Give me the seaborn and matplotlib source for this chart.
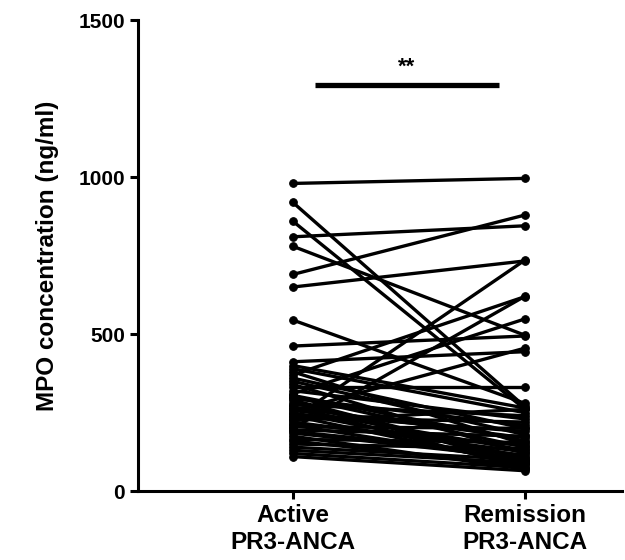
import matplotlib
matplotlib.use("Agg")
import matplotlib.pyplot as plt
import seaborn as sns
import pandas as pd

groups = ["Active\nPR3-ANCA", "Remission\nPR3-ANCA"]
active = [980, 920, 860, 810, 780, 690, 650, 545, 462, 412, 400, 390, 380, 370, 360, 350,
          340, 332, 320, 310, 305, 300, 295, 290, 282, 275, 270, 265, 260, 255, 250, 245,
          240, 235, 230, 225, 220, 215, 210, 205, 200, 195, 190, 185, 175, 165, 160, 150,
          140, 130, 120, 110]
remission = [996, 270, 262, 845, 497, 879, 733, 280, 494, 444, 265, 250, 150, 619, 200, 180,
             120, 332, 230, 548, 160, 140, 210, 100, 90, 240, 75, 170, 130, 455, 110, 190,
             85, 220, 735, 260, 125, 145, 95, 200, 620, 175, 115, 105, 70, 155, 80, 135,
             100, 90, 75, 65]
yticks = [0, 500, 1000, 1500]
sig_label = "**"
sig_level = 1293

rows = []
for i, (a, r) in enumerate(zip(active, remission)):
    rows.append({"subject": i, "pos": 0, "value": a})
    rows.append({"subject": i, "pos": 1, "value": r})
df = pd.DataFrame(rows)

sns.set_style("ticks", {"axes.edgecolor": "black", "text.color": "black",
                        "xtick.color": "black", "ytick.color": "black",
                        "axes.labelcolor": "black"})
plt.rcParams["font.family"] = ["Liberation Sans", "DejaVu Sans"]
plt.rcParams["font.weight"] = "bold"

fig = plt.figure(figsize=(6.25, 5.6), dpi=100)
ax = fig.add_axes([0.221, 0.123, 0.774, 0.841])

sns.lineplot(data=df, x="pos", y="value", units="subject", estimator=None,
             color="black", lw=2.4, marker="o", markersize=5.5,
             markeredgecolor="black", ax=ax, legend=False)

ax.set_xlim(-0.667, 1.42)
ax.set_ylim(0, 1500)
ax.set_xticks([0, 1])
ax.set_xticklabels(groups, fontsize=17.5, fontweight="bold", color="black")
ax.set_yticks(yticks)
ax.set_yticklabels([str(t) for t in yticks], fontsize=15, fontweight="bold", color="black")
ax.set_xlabel("")
ax.set_ylabel("MPO concentration (ng/ml)", fontsize=17.5, fontweight="bold",
              labelpad=14, color="black")

for s in ["top", "right"]:
    ax.spines[s].set_visible(False)
for s in ["left", "bottom"]:
    ax.spines[s].set_linewidth(2.2)
    ax.spines[s].set_color("black")
ax.tick_params(axis="both", width=2.2, length=6, direction="out", color="black")

ax.plot([0.095, 0.89], [sig_level, sig_level], color="black", lw=3.8, solid_capstyle="butt")
ax.text(0.49, sig_level + 25, sig_label, ha="center", va="bottom", fontsize=16,
        fontweight="bold", color="black")

fig.savefig("out.png", dpi=100)
